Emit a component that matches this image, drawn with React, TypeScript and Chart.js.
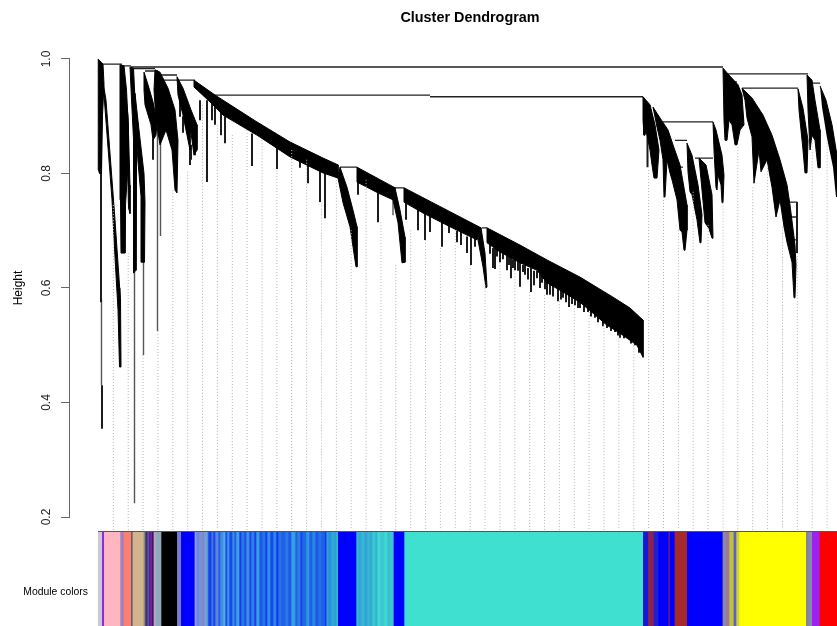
import React, { useEffect, useRef } from "react";
import { Chart, registerables } from "chart.js";

Chart.register(...registerables);

const FONT = "'Liberation Sans', Arial, sans-serif";
const yTickValues = [0.2, 0.4, 0.6, 0.8, 1.0];
const chartTitle = "Cluster Dendrogram";
const yTitle = "Height";
const bandLabel = "Module colors";

type P = [number, number];
// Dense branches of the tree, as outlines [leaf position, height]
const clusterA: P[] = [[98,1.0],[103,.991],[104,.956],[102.5,.902],[101.5,.80],[99.5,.80],[98.5,.806],[98.5,.93]];
const clusterA2: P[] = [[103,.96],[106,.928],[115,.719],[120.5,.579],[121,.462],[119.5,.462],[118,.562],[115.5,.638],[112,.754],[103,.96]];
const clusterB: P[] = [[120,.99],[124,.988],[126.5,.946],[128.5,.876],[128,.815],[125.5,.745],[125,.661],[121,.661],[120.5,.754],[120,.876]];
const clusterB2: P[] = [[126,.93],[128,.90],[130,.78],[130,.73],[128.5,.74],[127.5,.82]];
const clusterC1: P[] = [[130,.986],[133.5,.984],[135,.93],[136.5,.85],[136,.631],[133.5,.626],[133.5,.86],[131.5,.93]];
const clusterC2: P[] = [[135,.94],[139,.876],[144,.80],[145,.75],[144.5,.645],[141.5,.645],[141,.76],[138,.82],[136.5,.86]];
const clusterD1: P[] = [[144,.977],[148,.955],[153,.925],[157,.89],[156,.867],[153,.858],[151,.885],[145,.92],[144,.946]];
const clusterD2: P[] = [[155,.981],[160,.977],[168,.949],[175,.911],[178,.858],[177,.766],[175,.771],[172,.841],[166,.876],[160,.85],[156,.893],[154,.946]];
const clusterE: P[] = [[177,.969],[183,.949],[191,.911],[197,.885],[197,.841],[194,.832],[192,.858],[190,.885],[190,.841],[187,.867],[183,.902],[178,.937]];
const band1: P[] = [[194,.963],[215,.937],[257,.89],[290,.855],[323,.827],[338,.815],[338,.792],[323,.801],[290,.829],[257,.867],[223,.902],[210,.925],[194,.951]];
const spike1: P[] = [[340,.811],[347,.776],[353,.736],[357,.707],[357,.637],[356,.637],[353,.672],[350,.707],[343,.749],[338,.792]];
const band2: P[] = [[357,.811],[395,.775],[393,.754],[378,.766],[357,.785]];
const spike2: P[] = [[395,.775],[400,.736],[405,.689],[405,.645],[402,.644],[398,.714],[393,.754]];
const band3: P[] = [[404,.775],[447,.736],[481,.705],[477,.684],[450,.707],[423,.731],[404,.75]];
const spike3: P[] = [[481,.705],[485,.661],[487,.602],[486,.600],[483,.637],[478,.684]];
const band4: P[] = [[487,.705],[520,.675],[547,.649],[580,.619],[613,.584],[630,.565],[643,.544],[643,.479],[637,.500],[620,.521],[607,.535],[593,.556],[580,.575],[563,.593],[547,.609],[537,.631],[520,.644],[500,.663],[487,.679]];
const clusterF: P[] = [[643,.934],[650,.920],[655,.885],[659,.841],[657,.792],[654,.792],[652,.815],[650,.841],[646,.876],[645,.867],[644,.867],[643,.893]];
const clusterG: P[] = [[653,.916],[660,.897],[668,.876],[674,.845],[680,.815],[687,.745],[687,.701],[685,.666],[684,.666],[682,.698],[680,.701],[677,.754],[672,.789],[670,.801],[667,.824],[665,.759],[664,.759],[663,.824],[660,.858],[657,.881]];
const clusterH1: P[] = [[687,.853],[692,.832],[698,.780],[702,.728],[701,.679],[700,.679],[697,.719],[692,.763],[690,.768],[688,.803]];
const clusterH2: P[] = [[699,.827],[706,.815],[712,.763],[713,.687],[712,.687],[709,.704],[705,.714],[702,.771]];
const clusterI: P[] = [[713,.890],[716,.876],[722,.832],[724,.797],[723,.749],[722,.749],[721,.780],[718,.797],[717,.771],[716,.775],[714,.841]];
const clusterJ: P[] = [[723,.984],[730,.970],[738,.955],[742,.937],[744,.885],[740,.876],[737,.850],[735,.850],[732,.885],[729,.893],[727,.858],[725,.858],[724,.893]];
const clusterK: P[] = [[742,.949],[752,.932],[763,.902],[772,.867],[780,.824],[787,.780],[790,.745],[795,.675],[796,.640],[795,.583],[794,.583],[792,.645],[787,.680],[784,.707],[780,.754],[776,.724],[772,.776],[767,.824],[761,.803],[759,.841],[754,.783],[752,.864],[747,.897],[745,.928]];
const clusterL: P[] = [[798,.948],[803,.914],[808,.858],[807,.801],[805,.801],[803,.841],[801,.876],[799,.911]];
const clusterM: P[] = [[807,.972],[812,.963],[815,.928],[820,.876],[820,.810],[818,.810],[815,.858],[812,.867],[810,.841],[808,.911]];
const clusterN: P[] = [[820,.953],[826,.928],[832,.885],[837,.832],[837,.759],[836,.759],[833,.811],[827,.862],[822,.916]];
const outlines = [clusterA, clusterA2, clusterB, clusterB2, clusterC1, clusterC2, clusterD1, clusterD2, clusterE, band1, spike1, band2, spike2, band3, spike3, band4, clusterF, clusterG, clusterH1, clusterH2, clusterI, clusterJ, clusterK, clusterL, clusterM, clusterN];

// Single stems: [leaf position, top height, bottom height]
const darkStems: [number, number, number][] = [
  [101,.90,.575],[102,.43,.354],[119.5,.60,.56],
  [200,.928,.893],[207,.928,.785],[212,.93,.893],[215,.925,.885],[221,.91,.867],[225,.90,.853],
  [252,.87,.813],[277,.85,.808],[300,.825,.810],[308,.815,.783],[320,.805,.75],[325,.80,.722],
  [358,.785,.763],[378,.77,.715],[406,.755,.719],[418,.75,.701],[425,.735,.684],[430,.73,.698],[442,.72,.672],[449,.71,.696],[457,.70,.68],[461,.70,.675],[467,.69,.661],[471,.69,.640],[475,.69,.672],
  [493,.67,.635],[495,.67,.633],[500,.665,.645],[507,.66,.631],[511,.655,.617],[515,.65,.631],[520,.65,.602],[525,.64,.623],[531,.635,.593],[537,.63,.617],[542,.625,.609],[547,.615,.588],[550,.61,.588],[558,.60,.577],[563,.60,.583],[569,.59,.567],[575,.585,.570],[580,.58,.565],[588,.57,.558],[595,.56,.548],[607,.54,.530],[615,.53,.523],[620,.525,.513],[627,.52,.513],[635,.505,.500],
  [490,.68,.66],[497,.67,.655],[503,.665,.65],[509,.655,.64],[513,.65,.635],[518,.65,.63],[523,.64,.628],[528,.635,.615],[534,.63,.605],[540,.625,.60],[545,.615,.598],[553,.605,.585],[561,.60,.58],[566,.595,.575],[572,.585,.572],[578,.58,.565],[584,.575,.558],[591,.565,.55],[598,.555,.54],[603,.545,.533],[611,.535,.525],[618,.53,.517],[624,.52,.512],[631,.51,.503],[639,.50,.487],
  [647.5,.88,.811],[153,.86,.824],[180,.93,.899],[183,.90,.871],[190,.85,.815],[195,.845,.832],[191,.85,.824],
  [797,.750,.661],[644,.90,.867],
];
const greyStems: [number, number, number][] = [
  [134.5,.63,.224],[143.5,.65,.483],[157.5,.88,.525],[160.5,.86,.691],[101.5,.58,.43],[393,.76,.727],
];

// Joins of the tree: [left leaf position, right leaf position, height]
const joins: [number, number, number][] = [
  [100,122,.991],[122,131,.988],[131,723,.986],[134,155,.983],[145,158,.979],[155,177,.972],[162,195,.963],
  [212,430,.937],[430,643,.934],[340,357,.811],[394,404,.775],[482,487,.705],
  [727,808,.974],[742,798,.949],[663,713,.890],[675,687,.858],[695,713,.827],[787,797,.750],[790,797,.724],[792,796,.684],[812,820,.958],[727,737,.960],[678,683,.811],
];

// Dotted guides: leaf position and the height each one stops at
const guideX = [113.3,128.2,143,157.9,172.8,187.7,202.5,217.4,232.3,247.1,262,276.9,291.7,306.6,321.5,336.4,351.2,366.1,381,395.8,410.7,425.6,440.4,455.3,470.2,485.1,499.9,514.8,529.7,544.5,559.4,574.3,589.1,604,618.9,633.8,648.6,663.5,678.4,693.2,708.1,723,737.8,752.7,767.6,782.5,797.3,812.2,827.1];
const guideTop = [.745,.661,.483,.525,.771,.803,.920,.885,.867,.876,.858,.806,.841,.824,.744,.789,.701,.789,.715,.640,.701,.684,.670,.701,.640,.605,.645,.631,.593,.588,.577,.570,.558,.535,.513,.500,.806,.759,.701,.768,.710,.749,.846,.776,.815,.707,.661,.858,.858];
const guideBase = 0.177;

// Module colour strip: where each block ends, and its colour
const bandStart = 98.3;
const bandEnds = [101.7,103.7,120,123.3,130.7,132.3,143.3,145,147,148.5,150,151.5,153.3,155.7,161,176.7,180.7,194.3,196,199,202,204,206.7,208,211,213,215,218,220,223,225,227,229,232,234,236,239,241,244,246,249,251,254,256,259,262,265,267,270,273,276,278,281,285,288,291,295,297,300,302,306,309,312,315,318,321,325,326,328,331,334,336,337.7,356,358,361,364,367,369,372,375,377,380,384,387,390,393.3,404,642.7,647.7,653.3,658,668.3,669.3,674.3,686.7,722.3,725.7,729,733.3,736,739,805.7,808.3,811.7,819.3,837];
const bandColors = ["#cfc8d4","#8a2be2","#ffb6c1","#a080c0","#fa8072","#6a5a70","#d2b48c","#888888","#333366","#8040a0","#3030a0","#802080","#401080","#b0a8b0","#8fa8c0","#000000","#7a7ad0","#0000ff","#8f9be0","#6f86d8","#7b8fd4","#6f8cd8","#8a98d0","#2fa8d8","#1a3cf0","#3f77e0","#1a44f0","#5a86dc","#2a5ce8","#3f8ee0","#5aa8e0","#1a50ee","#3a9ce0","#1a48f0","#3f88e0","#1e60e8","#3fa0e0","#1a3cf0","#2a78e4","#1a50ee","#3f8ee0","#1a48f0","#2c80e4","#1e3cf0","#36a0de","#1a58ec","#2a70e6","#1040f4","#3090e0","#1848f0","#2a88e2","#1036f4","#2a70e6","#2060e8","#2a78e4","#2058e8","#36a0de","#2060e8","#2a80e4","#1a44f0","#2068e6","#2f98de","#1e60e8","#2a88e2","#1e58ea","#2470e6","#2060e8","#0a20fa","#30a0d8","#2a90dc","#2fa8d4","#28a0d8","#30b8d0","#0000ff","#35b8d0","#30a8d4","#38b8d0","#30a4d8","#38b8d0","#33acd4","#3ac8d0","#34b0d4","#3ed8d0","#3cc8d0","#40d8d0","#38c0d0","#3cc8d0","#0000ff","#40e0d0","#1818d0","#8b2252","#2020d0","#0000ff","#a52a2a","#0000ff","#a52a2a","#0000ff","#8888a8","#a07898","#c0c040","#6060c0","#d0d040","#ffff00","#8080a0","#8888b0","#a020f0","#ff0000"];

const seg = (pts: { x: number; y: number }[]) => ({
  type: "line" as const,
  data: pts,
  parsing: false as const,
  pointRadius: 0,
  tension: 0,
  fill: false,
  clip: false as const,
  spanGaps: false,
});

const stemPoints = (list: [number, number, number][]) =>
  list.flatMap(([x, t, b]) => [{ x, y: t }, { x, y: b }, { x, y: NaN }]);

export default function App() {
  const topRef = useRef<HTMLCanvasElement>(null);
  const bandRef = useRef<HTMLCanvasElement>(null);

  useEffect(() => {
    const tree = new Chart(topRef.current!, {
      type: "line",
      data: {
        datasets: [
          { ...seg(guideX.flatMap((x, i) => [{ x, y: guideTop[i] }, { x, y: guideBase }, { x, y: NaN }])), borderColor: "#b4b4b4", borderWidth: 1, borderDash: [1, 2] },
          ...outlines.map((o) => ({
            ...seg(o.concat([o[0]]).map(([x, y]) => ({ x, y }))),
            borderColor: "#000000",
            borderWidth: 1,
            backgroundColor: "#000000",
            fill: "shape" as const,
          })),
          { ...seg(stemPoints(darkStems)), borderColor: "#1c1c1c", borderWidth: 2 },
          { ...seg(stemPoints(greyStems)), borderColor: "#555555", borderWidth: 1.4 },
          { ...seg(joins.flatMap(([a, b, y]) => [{ x: a, y }, { x: b, y }, { x: a, y: NaN }])), borderColor: "#222222", borderWidth: 1.3 },
        ],
      } as any,
      options: {
        responsive: false,
        animation: false,
        events: [],
        layout: { padding: { top: 0, left: 0, right: 0, bottom: 109 } },
        plugins: {
          legend: { display: false },
          tooltip: { enabled: false },
          title: {
            display: true,
            text: chartTitle,
            color: "#000",
            font: { family: FONT, size: 14.4, weight: "bold", lineHeight: 1.2 },
            padding: { top: 9, bottom: 32.7 },
          },
        },
        scales: {
          x: { type: "linear", min: 69, max: 837, display: false },
          y: {
            type: "linear",
            min: 0.2,
            max: 1.0,
            afterFit: (s: any) => { s.width = 69; },
            afterBuildTicks: (s: any) => { s.ticks = yTickValues.map((value) => ({ value })); },
            border: { display: true, color: "#666666", width: 1 },
            grid: { drawOnChartArea: false, drawTicks: true, tickLength: 8, color: "#666666" },
            ticks: {
              minRotation: 90,
              maxRotation: 90,
              crossAlign: "center",
              padding: 6,
              color: "#222",
              font: { family: FONT, size: 12 },
              callback: (v: any) => Number(v).toFixed(1),
            },
            title: { display: true, text: yTitle, color: "#000", font: { family: FONT, size: 12 }, padding: { top: 11, bottom: 0 } },
          },
        },
      },
      plugins: [
        {
          id: "titleOverPlot",
          afterLayout(c: any) {
            c.titleBlock.left = 103;
            c.titleBlock.right = 837;
          },
        },
      ],
    } as any);

    const strip = new Chart(bandRef.current!, {
      type: "bar",
      data: {
        labels: [bandLabel],
        datasets: bandEnds.map((end, i) => ({
          data: [[i === 0 ? bandStart : bandEnds[i - 1], end]],
          backgroundColor: bandColors[i],
          borderWidth: 0,
          barPercentage: 1,
          categoryPercentage: 1,
          grouped: false,
        })),
      } as any,
      options: {
        indexAxis: "y",
        responsive: false,
        animation: false,
        events: [],
        layout: { padding: { top: 531, left: 0, right: 0, bottom: 0 } },
        plugins: { legend: { display: false }, tooltip: { enabled: false }, title: { display: false } },
        scales: {
          x: {
            type: "linear",
            position: "top",
            min: 98,
            max: 837,
            afterFit: (s: any) => { s.height = 0; },
            ticks: { display: false },
            grid: { display: false },
            border: { display: true, color: "#555555", width: 1, z: 1 },
          },
          y: {
            type: "category",
            afterFit: (s: any) => { s.width = 98; },
            grid: { display: false },
            border: { display: false },
            ticks: { color: "#000", padding: 2, font: { family: FONT, size: 10.4 } },
          },
        },
      },
    } as any);

    return () => {
      tree.destroy();
      strip.destroy();
    };
  }, []);

  return (
    <div style={{ position: "fixed", left: 0, top: 0, width: 837, height: 626, overflow: "hidden", background: "#fff" }}>
      <canvas ref={topRef} width={837} height={626} style={{ position: "absolute", left: 0, top: 0, display: "block" }} />
      <canvas ref={bandRef} width={837} height={661} style={{ position: "absolute", left: 0, top: 0, display: "block" }} />
    </div>
  );
}
